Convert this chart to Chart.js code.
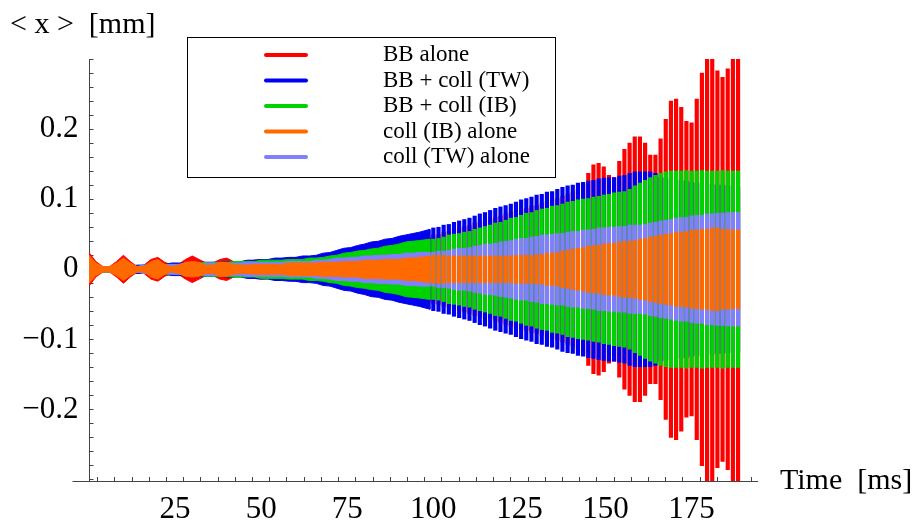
<!DOCTYPE html>
<html>
<head>
<meta charset="utf-8">
<script src="https://cdn.jsdelivr.net/npm/chart.js@4.4.1/dist/chart.umd.min.js"></script>
<style>
  body { margin: 0; background: #fff; }
  #wrap { width: 912px; height: 528px; }
</style>
</head>
<body>
<div id="wrap"><canvas id="chart" width="912" height="528"></canvas></div>
<script>
// legend order
const seriesNames = ['BB alone', 'BB + coll (TW)', 'BB + coll (IB)', 'coll (IB) alone', 'coll (TW) alone'];
const seriesColors = ['#ff0000', '#0000f0', '#00d200', '#ff6a00', '#8080ff'];
// lower number is drawn on top
const drawOrder = [5, 4, 3, 1, 2];

// sample times [ms]: dense part, then the striped part
const earlyTimes = [0,2,4,6,8,10,12,14,16,18, 20,22,24,26,28,30,32,34,36,38,
  40,42,44,46,48,50,52,54,56,58, 60,62,64,66,68,70,72,74,76,78,
  80,82,84,86,88,90,92,94,96,99];
const lateTimes = [100,101.5,103,104.5,106,107.5,109,110.5,112,113.5,
  115,116.5,118,119.5,121,122.5,124,125.5,127,128.5,
  130,131.5,133,134.5,136,137.5,139,140.5,142,143.5,
  145,146.5,148,149.5,151,152.5,154,155.5,157,158.5,
  160,161.5,163,164.5,166,167.5,169,170.5,172,173.5,
  175,176.5,178,179.5,181,182.5,184,185.5,187,188.5];

// oscillation amplitude <x> envelope [mm]
const bbAloneEarly = [0.024,0.011,0.004,0.004,0.011,0.020,0.011,0.004,0.006,0.014,
  0.017,0.010,0.006,0.007,0.014,0.019,0.014,0.009,0.009,0.014,
  0.016,0.011,0.009,0.010,0.013,0.014,0.013,0.013,0.014,0.016,
  0.017,0.016,0.016,0.017,0.019,0.020,0.021,0.023,0.026,0.027,
  0.029,0.030,0.031,0.034,0.036,0.037,0.039,0.041,0.043,0.046];
const bbTwEarly = [0.004,0.004,0.004,0.004,0.004,0.004,0.004,0.006,0.006,0.006,
  0.007,0.007,0.009,0.009,0.009,0.009,0.010,0.010,0.010,0.010,
  0.011,0.011,0.011,0.013,0.013,0.014,0.014,0.016,0.016,0.017,
  0.017,0.019,0.019,0.020,0.023,0.024,0.027,0.030,0.031,0.034,
  0.036,0.039,0.040,0.043,0.044,0.047,0.049,0.051,0.053,0.057];
const bbIbEarly = [0.004,0.004,0.004,0.004,0.004,0.004,0.004,0.004,0.006,0.006,
  0.006,0.007,0.007,0.007,0.009,0.009,0.009,0.010,0.010,0.010,
  0.010,0.011,0.011,0.011,0.011,0.013,0.013,0.013,0.013,0.014,
  0.014,0.014,0.016,0.016,0.017,0.019,0.020,0.023,0.024,0.026,
  0.027,0.029,0.030,0.033,0.034,0.036,0.039,0.040,0.041,0.043];
const ibAloneEarly = [0.020,0.009,0.004,0.004,0.009,0.016,0.009,0.004,0.004,0.011,
  0.014,0.007,0.004,0.006,0.010,0.011,0.010,0.006,0.006,0.010,
  0.010,0.007,0.006,0.006,0.007,0.007,0.007,0.007,0.007,0.009,
  0.009,0.009,0.009,0.009,0.010,0.010,0.010,0.011,0.011,0.011,
  0.013,0.013,0.013,0.014,0.014,0.014,0.016,0.016,0.017,0.019];
const twAloneEarly = [0.004,0.004,0.004,0.004,0.004,0.004,0.004,0.004,0.006,0.006,
  0.006,0.006,0.007,0.007,0.007,0.007,0.007,0.009,0.009,0.009,
  0.009,0.009,0.009,0.010,0.010,0.010,0.010,0.010,0.010,0.011,
  0.011,0.011,0.011,0.013,0.013,0.014,0.016,0.016,0.017,0.017,
  0.019,0.019,0.020,0.020,0.021,0.021,0.023,0.023,0.024,0.024];

const bbAloneLate = [0.049,0.050,0.053,0.054,0.057,0.059,0.061,0.063,0.066,0.067,
  0.070,0.071,0.074,0.076,0.079,0.081,0.083,0.086,0.087,0.090,
  0.091,0.094,0.097,0.099,0.101,0.104,0.107,0.110,0.114,0.121,
  0.137,0.149,0.151,0.146,0.134,0.131,0.154,0.171,0.180,0.189,
  0.189,0.180,0.163,0.163,0.186,0.214,0.240,0.243,0.231,0.211,
  0.209,0.243,0.280,0.307,0.307,0.283,0.274,0.286,0.307,0.307];
const bbTwLate = [0.059,0.060,0.063,0.064,0.067,0.069,0.071,0.073,0.076,0.079,
  0.081,0.084,0.087,0.089,0.091,0.093,0.096,0.099,0.101,0.103,
  0.106,0.107,0.110,0.111,0.114,0.117,0.119,0.120,0.123,0.124,
  0.126,0.127,0.129,0.130,0.131,0.131,0.133,0.134,0.137,0.139,
  0.139,0.139,0.139,0.137,0.131,0.130,0.129,0.127,0.126,0.126,
  0.124,0.123,0.123,0.121,0.121,0.120,0.120,0.119,0.119,0.117];
const bbIbLate = [0.043,0.044,0.046,0.049,0.050,0.051,0.053,0.054,0.057,0.059,
  0.061,0.063,0.066,0.067,0.070,0.073,0.074,0.077,0.080,0.081,
  0.084,0.086,0.087,0.090,0.091,0.093,0.096,0.097,0.099,0.100,
  0.101,0.103,0.104,0.106,0.107,0.109,0.110,0.111,0.114,0.119,
  0.123,0.127,0.131,0.134,0.137,0.139,0.140,0.140,0.140,0.141,
  0.140,0.140,0.141,0.140,0.140,0.140,0.141,0.140,0.140,0.140];
const ibAloneLate = [0.020,0.020,0.020,0.019,0.019,0.019,0.019,0.019,0.019,0.019,
  0.019,0.019,0.019,0.019,0.019,0.019,0.020,0.020,0.020,0.020,
  0.021,0.021,0.023,0.023,0.024,0.026,0.027,0.029,0.030,0.031,
  0.033,0.034,0.034,0.036,0.037,0.037,0.039,0.040,0.040,0.041,
  0.043,0.044,0.046,0.047,0.049,0.050,0.051,0.053,0.053,0.054,
  0.056,0.056,0.057,0.057,0.059,0.059,0.057,0.057,0.056,0.056];
const twAloneLate = [0.024,0.026,0.026,0.027,0.029,0.030,0.030,0.031,0.033,0.034,
  0.036,0.036,0.037,0.039,0.040,0.041,0.043,0.044,0.044,0.046,
  0.047,0.049,0.049,0.050,0.051,0.051,0.053,0.054,0.054,0.056,
  0.056,0.057,0.059,0.059,0.060,0.060,0.061,0.061,0.063,0.063,
  0.063,0.064,0.066,0.067,0.069,0.070,0.071,0.073,0.074,0.074,
  0.076,0.077,0.077,0.079,0.079,0.080,0.080,0.081,0.081,0.081];

const earlyAmps = [bbAloneEarly, bbTwEarly, bbIbEarly, ibAloneEarly, twAloneEarly];
const lateAmps = [bbAloneLate, bbTwLate, bbIbLate, ibAloneLate, twAloneLate];

const FONT = 'Liberation Serif';
Chart.defaults.font.family = FONT;
Chart.defaults.color = '#000';

const datasets = [];
// striped part: one floating bar per sample, from -amp to +amp
seriesNames.forEach((name, i) => {
  datasets.push({
    type: 'bar',
    label: name,
    data: lateTimes.map((t, j) => ({ x: t, y: [-lateAmps[i][j], lateAmps[i][j]] })),
    backgroundColor: seriesColors[i],
    borderWidth: 0,
    barThickness: 3.5,
    grouped: false,
    order: drawOrder[i]
  });
});
// dense part: closed band between +amp and -amp
seriesNames.forEach((name, i) => {
  const upper = earlyTimes.map((t, j) => ({ x: t, y: earlyAmps[i][j] }));
  const lower = earlyTimes.map((t, j) => ({ x: t, y: -earlyAmps[i][j] })).reverse();
  datasets.push({
    type: 'line',
    label: name,
    data: upper.concat(lower),
    borderColor: seriesColors[i],
    backgroundColor: seriesColors[i],
    borderWidth: 1,
    pointRadius: 0,
    tension: 0,
    fill: 'shape',
    order: drawOrder[i]
  });
});

const decor = {
  id: 'decor',
  afterDraw(chart) {
    const ctx = chart.ctx;
    const area = chart.chartArea;
    const xs = chart.scales.x;
    ctx.save();
    // x axis runs a little left of the origin
    ctx.strokeStyle = '#444';
    ctx.lineWidth = 1;
    ctx.beginPath();
    ctx.moveTo(xs.getPixelForValue(-4.8), area.bottom + 0.5);
    ctx.lineTo(area.left, area.bottom + 0.5);
    ctx.stroke();

    ctx.fillStyle = '#000';
    ctx.font = '30px "' + FONT + '"';
    ctx.textBaseline = 'alphabetic';
    ctx.textAlign = 'left';
    ctx.fillText('< x >  [mm]', 10, 33);
    ctx.fillText('Time  [ms]', 780, 489);

    // legend box
    const bx = 187, by = 37, bw = 368, bh = 140;
    ctx.fillStyle = '#fff';
    ctx.fillRect(bx, by, bw, bh);
    ctx.strokeStyle = '#000';
    ctx.lineWidth = 1;
    ctx.strokeRect(bx + 0.5, by + 0.5, bw, bh);
    ctx.font = '23px "' + FONT + '"';
    ctx.textBaseline = 'middle';
    ctx.lineCap = 'round';
    for (let i = 0; i < seriesNames.length; i++) {
      const ds = chart.data.datasets[i];
      const y = by + 18 + i * 25.5;
      ctx.strokeStyle = ds.backgroundColor;
      ctx.lineWidth = 4;
      ctx.beginPath();
      ctx.moveTo(266, y);
      ctx.lineTo(306, y);
      ctx.stroke();
      ctx.fillStyle = '#000';
      ctx.fillText(ds.label, 383, y);
    }
    ctx.restore();
  }
};

const tickFont = { family: FONT, size: 31 };

new Chart(document.getElementById('chart'), {
  type: 'bar',
  data: { datasets: datasets },
  options: {
    responsive: false,
    animation: false,
    devicePixelRatio: 1,
    events: [],
    layout: { padding: { left: 0, right: 155, top: 59, bottom: 0 } },
    plugins: { legend: { display: false }, tooltip: { enabled: false } },
    scales: {
      x: {
        type: 'linear',
        min: 0,
        max: 194,
        offset: false,
        border: { display: true, color: '#444', width: 1 },
        grid: { drawOnChartArea: false, drawTicks: true, tickLength: -4, color: '#444' },
        ticks: {
          stepSize: 5,
          autoSkip: false,
          maxRotation: 0,
          includeBounds: false,
          padding: 14,
          font: tickFont,
          color: '#000',
          callback: v => (v > 0 && v % 25 === 0) ? String(v) : ''
        },
        afterFit: s => { s.height = 47; }
      },
      y: {
        type: 'linear',
        min: -0.302,
        max: 0.3,
        border: { display: true, color: '#444', width: 1 },
        grid: { drawOnChartArea: false, drawTicks: true, tickLength: -4.5, color: '#444' },
        ticks: {
          stepSize: 0.02,
          autoSkip: false,
          includeBounds: false,
          padding: 15,
          font: tickFont,
          color: '#000',
          callback: v => {
            const k = Math.round(v * 100);
            if (k % 10 !== 0 || Math.abs(k) >= 30) return '';
            if (k === 0) return '0';
            return (k < 0 ? '\u2212' : '') + (Math.abs(k) / 100).toFixed(1);
          }
        },
        afterFit: s => { s.width = 89; }
      }
    }
  },
  plugins: [decor]
});
</script>
</body>
</html>
